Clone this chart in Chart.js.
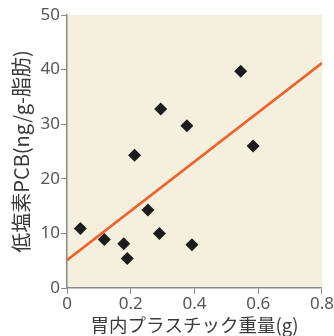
<!DOCTYPE html>
<html>
<head>
<meta charset="utf-8">
<script src="https://cdn.jsdelivr.net/npm/chart.js@4/dist/chart.umd.min.js"></script>
<style>
  html, body { margin: 0; padding: 0; background: #fff; }
  #wrap { width: 334px; height: 336px; }
</style>
</head>
<body>
<div id="wrap"><canvas id="pcb-chart"></canvas></div>
<script>
// plastic weight in stomach (g) vs low-chlorinated PCB (ng/g-fat)
const plasticWeight = [0.042, 0.117, 0.178, 0.189, 0.212, 0.254, 0.290, 0.294, 0.376, 0.392, 0.545, 0.584];
const pcbValues = [10.9, 8.9, 8.1, 5.4, 24.3, 14.3, 10.0, 32.8, 29.7, 7.9, 39.7, 26.0];
const fitX = [0, 0.8];
const fitY = [5.1, 41.2];
const xTicks = [0, 0.2, 0.4, 0.6, 0.8];
const yTicks = [0, 10, 20, 30, 40, 50];

const axisColor = '#8a8a8a';
const tickFont = { family: '"Noto Sans", sans-serif', size: 17 };

const plotBackground = {
    id: 'plotBackground',
    beforeDraw(chart) {
        const { ctx, chartArea: a } = chart;
        ctx.save();
        ctx.fillStyle = '#f5f0dd';
        ctx.fillRect(a.left, a.top, a.right - a.left, a.bottom - a.top);
        ctx.restore();
    }
};

new Chart(document.getElementById('pcb-chart'), {
    data: {
        datasets: [
            {
                type: 'scatter',
                data: plasticWeight.map((x, i) => ({ x: x, y: pcbValues[i] })),
                pointStyle: 'rectRot',
                pointRadius: 6.5,
                pointBackgroundColor: '#1c1c1c',
                pointBorderWidth: 0,
                order: 1
            },
            {
                type: 'line',
                data: fitX.map((x, i) => ({ x: x, y: fitY[i] })),
                borderColor: '#f0602a',
                borderWidth: 2.5,
                pointRadius: 0,
                order: 2
            }
        ]
    },
    options: {
        responsive: true,
        maintainAspectRatio: false,
        animation: false,
        layout: { padding: { top: 15, right: 12, left: 0, bottom: 0 } },
        plugins: { legend: { display: false }, tooltip: { enabled: false } },
        scales: {
            x: {
                type: 'linear',
                min: 0, max: 0.8,
                afterBuildTicks: s => { s.ticks = xTicks.map(v => ({ value: v })); },
                afterFit: s => { s.height = 48; },
                grid: { display: true, drawOnChartArea: false, tickLength: 6, color: axisColor },
                border: { display: true, color: axisColor, width: 1.5 },
                ticks: { color: '#555', font: tickFont, padding: 0, maxRotation: 0 },
                title: { display: true, text: '胃内プラスチック重量(g)', color: '#3a3a3a',
                    font: { family: '"Noto Sans CJK JP", sans-serif', size: 18.5 }, padding: { top: -2, bottom: 0 } }
            },
            y: {
                type: 'linear',
                min: 0, max: 50,
                afterBuildTicks: s => { s.ticks = yTicks.map(v => ({ value: v })); },
                afterFit: s => { s.width = 67; },
                grid: { display: true, drawOnChartArea: false, tickLength: 6, color: axisColor },
                border: { display: true, color: axisColor, width: 1.5 },
                ticks: { color: '#555', font: tickFont, padding: 1 },
                title: { display: true, text: '低塩素PCB(ng/g-脂肪)', color: '#3a3a3a',
                    font: { family: '"Noto Sans CJK JP", sans-serif', size: 20 }, padding: { top: 9, bottom: 0 } }
            }
        }
    },
    plugins: [plotBackground]
});
</script>
</body>
</html>
